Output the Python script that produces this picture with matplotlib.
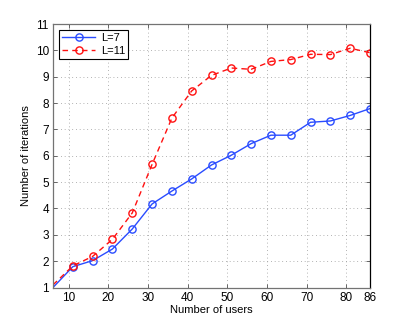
import matplotlib.pyplot as plt

# data
users = [6, 11, 16, 21, 26, 31, 36, 41, 46, 51, 56, 61, 66, 71, 76, 81, 86]
iters_L7 = [1.0, 1.79, 2.02, 2.46, 3.22, 4.17, 4.66, 5.12, 5.65, 6.02, 6.46,
            6.78, 6.78, 7.27, 7.32, 7.53, 7.79]
iters_L11 = [1.1, 1.82, 2.18, 2.83, 3.83, 5.67, 7.43, 8.46, 9.05, 9.33, 9.28,
             9.58, 9.65, 9.85, 9.84, 10.08, 9.91]

xticks = [10, 20, 30, 40, 50, 60, 70, 80, 86]
yticks = list(range(1, 12))

plt.rcParams['font.family'] = ['Liberation Sans', 'DejaVu Sans']
plt.rcParams['font.size'] = 8

fig = plt.figure(figsize=(4.09, 3.24), dpi=100)
ax = fig.add_axes([53 / 409, 1 - 287.5 / 324, 317 / 409, 263.5 / 324])

ax.plot(users, iters_L7, '-', color='#2a4cff', lw=1.0, marker='o', ms=5.2,
        mfc='none', mew=1.0, markevery=slice(1, None), label='L=7')
ax.plot(users, iters_L11, '--', color='#ff1010', lw=1.0, marker='o', ms=5.2,
        mfc='none', mew=1.0, markevery=slice(1, None), dashes=(4, 3),
        label='L=11')

ax.set_xlim(6, 86)
ax.set_ylim(1, 11)
ax.set_xticks(xticks)
ax.set_yticks(yticks)
ax.tick_params(direction='in', top=True, right=True, length=3, width=0.6,
               colors='0.3', labelcolor='black', labelsize=8.5, pad=3)
ax.grid(True, linestyle=(0, (1, 3.5)), color='0.6', lw=0.6)

for side in ['left', 'bottom', 'top']:
    ax.spines[side].set_color('0.45')
    ax.spines[side].set_linewidth(0.9)
ax.spines['right'].set_color('black')
ax.spines['right'].set_linewidth(0.9)

ax.set_xlabel('Number of users', labelpad=1)
ax.set_ylabel('Number of iterations', labelpad=3)

leg = ax.legend(loc='upper left', fancybox=False, edgecolor='black',
                framealpha=1, borderpad=0.3, handlelength=3.0,
                labelspacing=0.25, borderaxespad=0.5, handletextpad=0.5)
leg.get_frame().set_linewidth(0.8)

fig.savefig('out.png', dpi=100)
